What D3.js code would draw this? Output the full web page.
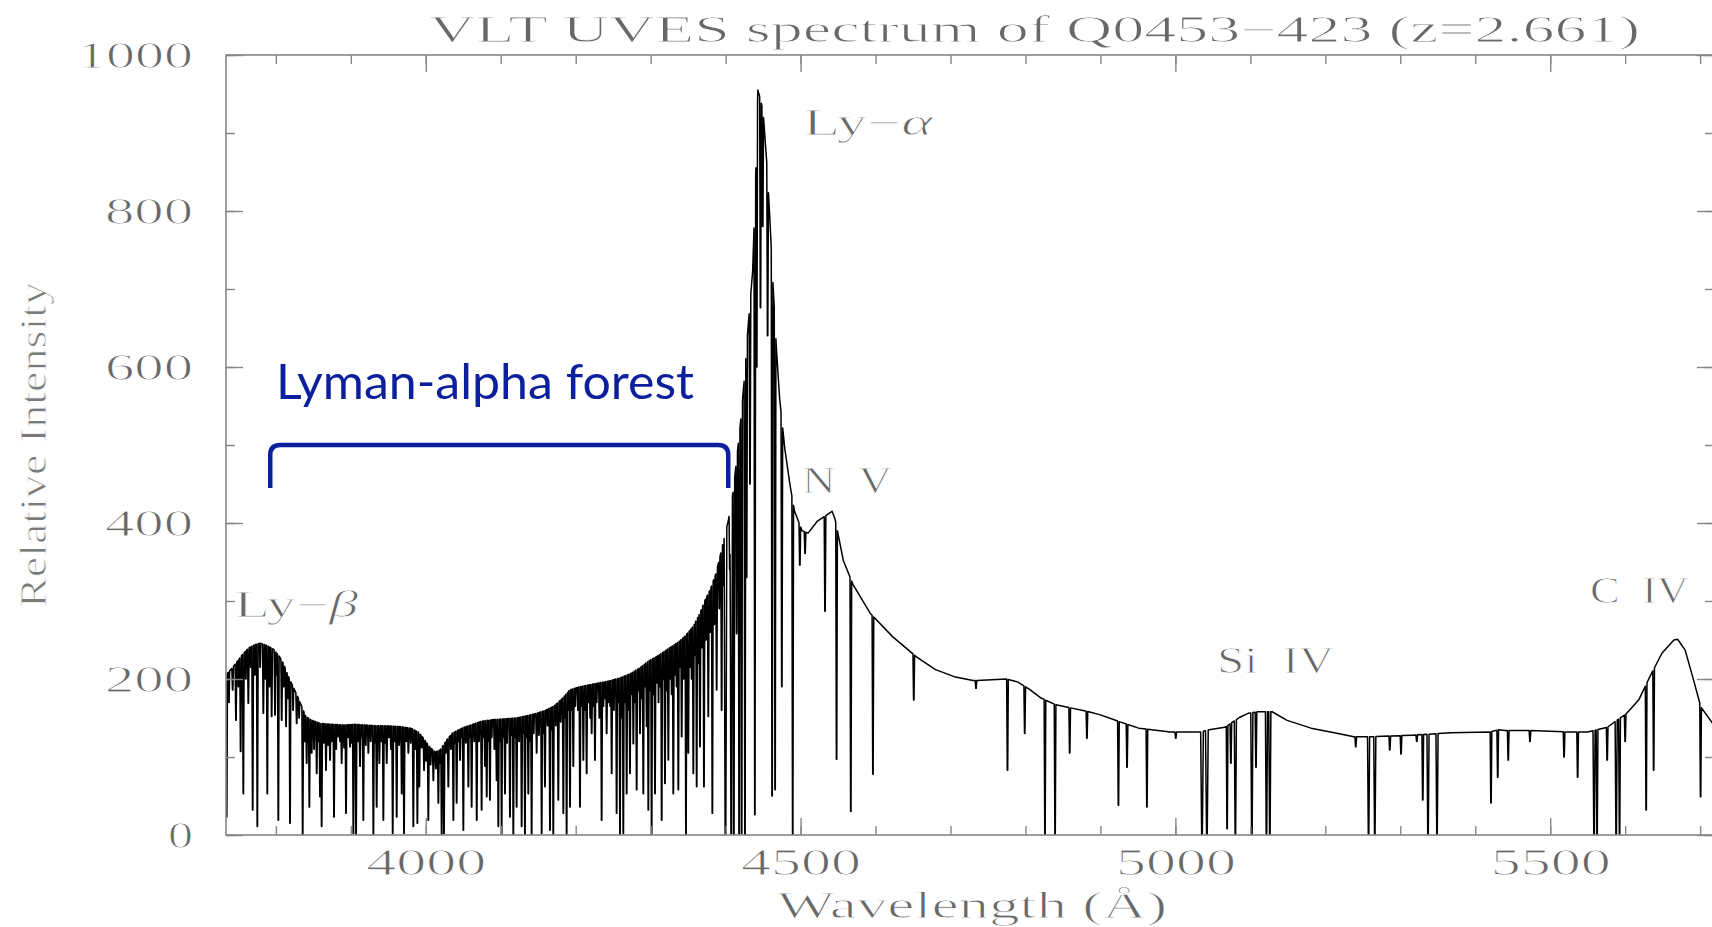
<!DOCTYPE html>
<html>
<head>
<meta charset="utf-8">
<script src="https://cdn.jsdelivr.net/npm/d3@7/dist/d3.min.js"></script>
<style>
  html, body { margin: 0; padding: 0; background: #ffffff; }
  svg { display: block; }
</style>
</head>
<body>
<svg id="chart" width="1712" height="927"></svg>
<script>
// ---------------------------------------------------------------
// VLT UVES spectrum of Q0453-423 (z = 2.661)
// ---------------------------------------------------------------

// Unabsorbed flux profile (continuum + emission lines): [wavelength Å, relative intensity]
const envelope = [
  [3733, 205], [3740, 212], [3748, 222], [3756, 232], [3764, 240], [3772, 244], [3779, 246],
  [3788, 243], [3797, 238], [3804, 230], [3810, 220], [3816, 205], [3822, 192], [3828, 180],
  [3834, 166], [3840, 152], [3848, 147], [3860, 143], [3875, 142], [3890, 141], [3905, 142],
  [3920, 141], [3935, 140], [3950, 140], [3965, 139], [3980, 137], [3990, 132], [3997, 124],
  [4005, 113], [4013, 106], [4020, 110], [4028, 122], [4036, 131], [4048, 137], [4060, 141],
  [4075, 146], [4090, 148], [4105, 149], [4120, 150], [4135, 153], [4148, 156], [4160, 160],
  [4172, 166], [4182, 175], [4192, 186], [4205, 190], [4220, 193], [4242, 197], [4258, 201],
  [4273, 207], [4285, 214], [4297, 223], [4310, 230], [4322, 238], [4335, 246], [4345, 254],
  [4357, 268], [4366, 285], [4373, 302], [4380, 316], [4387, 335], [4392, 355], [4398, 380],
  [4404, 405], [4410, 440], [4415, 485], [4420, 530], [4425, 585], [4430, 652], [4436, 722],
  [4440, 840], [4443, 955], [4446, 945], [4450, 928], [4455, 860], [4459, 790], [4463, 710],
  [4468, 620], [4472, 560], [4479, 495], [4486, 448], [4492, 415], [4502, 390], [4510, 387],
  [4522, 402], [4536, 411], [4542, 415], [4546, 405], [4557, 352], [4570, 321], [4593, 284],
  [4623, 254], [4655, 228], [4680, 212], [4705, 203], [4730, 198], [4755, 199], [4775, 200],
  [4790, 196], [4805, 187], [4820, 176], [4840, 167], [4860, 163], [4880, 159], [4900, 154],
  [4926, 145], [4951, 137], [4993, 132], [5034, 132], [5045, 135], [5066, 138], [5086, 151],
  [5097, 156], [5110, 158], [5129, 158], [5149, 147], [5181, 137], [5212, 131], [5238, 126],
  [5264, 126], [5316, 128], [5368, 131], [5420, 132], [5431, 135], [5440, 134], [5472, 134],
  [5524, 132], [5550, 132], [5576, 138], [5602, 156], [5618, 173], [5633, 203], [5649, 233],
  [5665, 250], [5670, 251], [5680, 237], [5690, 203], [5701, 164], [5719, 140]
];

// Strong absorption lines: [central wavelength Å, flux at line core, optional half-width Å]
const absorbers = [
  [3734.4, 23], [3742.4, 186], [3746.8, 147], [3753, 107], [3756.6, 53], [3763.3, 169],
  [3769.1, 32], [3775.3, 11], [3783.3, 156], [3788.6, 53], [3794.4, 152], [3798.9, 154],
  [3803.3, 19], [3807.8, 147], [3813.6, 139], [3818.9, 15], [3827.8, 143], [3835.8, 0],
  [3841.1, 92], [3844.7, 36], [3847.8, 105], [3854.5, 79], [3858.9, 49], [3861.1, 11],
  [3866.9, 83], [3872.3, 96], [3877.6, 23], [3883.4, 126], [3887.8, 92], [3893.6, 28],
  [3898.9, 113], [3903.4, 2], [3907, 0], [3912.3, 88], [3916.7, 19], [3923.4, 105],
  [3930.1, 0], [3934.5, 36], [3938.1, 92], [3943.4, 19], [3947.9, 92], [3955.9, 2],
  [3961.2, 23], [3967.9, 53], [3971, 2], [3976.8, 105], [3983.4, 11], [3988.8, 15],
  [3991.4, 62], [3997.7, 83], [4003.4, 19], [4010.1, 70], [4016.8, 41], [4021.2, 0],
  [4024.3, 2], [4030.1, 62], [4036.8, 19], [4041.2, 41], [4045.7, 96], [4050.1, 6],
  [4056.8, 62], [4061.2, 36], [4068, 19], [4074.5, 32], [4079, 88], [4081.3, 49],
  [4085.6, 45], [4094.5, 70], [4096.8, 11], [4101.2, 0], [4105.7, 53], [4112.3, 23],
  [4116.8, 0], [4121.2, 36], [4127.9, 11], [4132.3, 0], [4136.8, 53], [4141.2, 0],
  [4147.9, 105], [4154.6, 2], [4159, 62], [4165.7, 6], [4170.1, 0], [4176.8, 45],
  [4183.5, 28], [4187.9, 0], [4192.4, 36], [4196.8, 88], [4205.7, 36], [4210.2, 96],
  [4214.6, 79], [4221.3, 130], [4225.7, 96], [4234.6, 19], [4241.3, 130], [4248, 79],
  [4254.6, 28], [4259.1, 0], [4263.5, 2], [4268, 53], [4272.4, 79], [4276.9, 117],
  [4281.3, 58], [4285.8, 130], [4290.2, 53], [4294.7, 139], [4296.9, 32], [4301.3, 0],
  [4305.8, 53], [4314.7, 19], [4319.1, 66], [4323.6, 96], [4330.2, 53], [4336.9, 58],
  [4341.4, 126], [4347.1, 0], [4350.2, 105], [4356.9, 79], [4361.4, 62], [4365.8, 113],
  [4371.1, 62], [4376.9, 152], [4382.3, 28], [4388, 186], [4394.7, 160], [4399.8, 0, 1.8],
  [4407.5, 2, 1.6], [4411, 0], [4414.7, 258], [4418, 0], [4421.4, 2], [4425.8, 0],
  [4428, 330], [4432.5, 450], [4439, 26], [4441.5, 600], [4446.5, 676], [4449.5, 780],
  [4456, 640], [4462, 50], [4466, 58], [4475, 190], [4489.5, 0],
  [4499, 346], [4506, 361], [4532.6, 287], [4548, 97], [4567, 30], [4596.5, 78],
  [4651, 173], [4734, 188], [4776, 83], [4799, 130], [4826, 0], [4839.5, 0], [4859, 105],
  [4882, 124], [4924, 38], [4935.5, 87], [4962, 36], [5000.5, 124], [5035.5, 0, 1.8],
  [5042, 0, 1.8], [5069, 8], [5074, 92], [5080, 0, 1.4], [5102, 0, 1.4], [5107.5, 87],
  [5121.5, 0, 1.4], [5126, 0, 1.4], [5240.6, 113], [5257.7, 0, 1.4], [5266, 0, 1.4],
  [5286, 109], [5301, 104], [5322, 120], [5330, 45], [5337, 0, 1.4], [5349, 0, 1.4],
  [5421, 41], [5430, 74], [5444, 96], [5473, 120], [5518.5, 100], [5536.6, 74],
  [5558.5, 0, 1.4], [5562.5, 0, 1.2], [5576, 96], [5588, 0, 1.4], [5592.5, 0, 1.2],
  [5600, 120], [5628, 32], [5638, 83], [5700.6, 49]
];

// Weaker forest lines that roughen the top of the Lyman forest: [wavelength Å, core flux]
const weakForest = [
  [3737.5, 170], [3750, 190], [3760, 200], [3766.5, 215], [3772, 205], [3779, 215],
  [3786, 200], [3791.5, 190], [3801, 205], [3810.5, 190], [3816, 175], [3823, 160],
  [3831, 150], [3838.5, 120], [3851, 110], [3856.7, 120], [3864, 118], [3869.6, 115],
  [3875, 120], [3880.5, 110], [3885.6, 120], [3891, 112], [3896.3, 125], [3901, 118],
  [3910, 120], [3914.5, 125], [3920, 115], [3926.5, 120], [3932.3, 118], [3941, 120],
  [3945.6, 118], [3950.8, 125], [3953.5, 110], [3958.5, 120], [3964.5, 115], [3974, 120],
  [3980, 118], [3986, 110], [3994.5, 112], [4000.5, 95], [4006.5, 90], [4013.5, 85],
  [4019, 92], [4027, 105], [4033.5, 110], [4039, 118], [4043.5, 120], [4048, 125],
  [4053.5, 118], [4059, 125], [4064.7, 120], [4071, 120], [4077, 125], [4083.5, 120],
  [4088, 125], [4091.5, 110], [4099, 120], [4103.5, 125], [4108.5, 118], [4114.5, 128],
  [4119, 125], [4124.5, 120], [4130, 130], [4134.5, 125], [4139, 120], [4144, 130],
  [4151, 128], [4157, 130], [4162.5, 140], [4168, 135], [4173.5, 140], [4180, 145],
  [4185.7, 150], [4190, 160], [4194.5, 160], [4199.5, 165], [4203, 160], [4208, 165],
  [4212.5, 160], [4217, 170], [4219.3, 150], [4223.5, 165], [4228, 170], [4231.5, 150],
  [4237, 165], [4239, 175], [4243.5, 170], [4246, 165], [4251, 160], [4257, 170],
  [4261.3, 150], [4266, 170], [4270.2, 160], [4274.6, 180], [4279, 170], [4283.5, 185],
  [4288, 175], [4292.5, 190], [4299, 185], [4303.5, 180], [4308, 195], [4310.5, 170],
  [4312.5, 190], [4317, 200], [4321.3, 185], [4326, 200], [4328, 180], [4332.5, 205],
  [4334.6, 190], [4339, 215], [4344, 200], [4352.5, 215], [4354.6, 200], [4359, 230],
  [4363.6, 220], [4368.5, 240], [4374, 250], [4379.5, 260], [4385, 270], [4391.5, 290],
  [4397, 320], [4405.5, 340]
];

// Axis ticks and labels
const xMajorTicks = [4000, 4500, 5000, 5500];
const xTickLabels = ["4000", "4500", "5000", "5500"];
const xMinorTicks = d3.range(3800, 5701, 100);
const yMajorTicks = [0, 200, 400, 600, 800, 1000];
const yTickLabels = ["0", "200", "400", "600", "800", "1000"];
const yMinorTicks = d3.range(0, 1001, 100);

// Text
const titleText = "VLT UVES spectrum of Q0453\u2212423 (z=2.661)";
const xTitle = "Wavelength (\u00C5)";
const yTitle = "Relative Intensity";
const forestText = "Lyman-alpha forest";

// ---------------------------------------------------------------
const svg = d3.select("#chart");
const axisColor = "#868686";
const textColor = "#686868";
const serif = "'Liberation Serif', 'Times New Roman', serif";
const blue = "#0c1f9c";

const x = d3.scaleLinear().domain([3733.5, 5718.5]).range([226, 1714]);
const y = d3.scaleLinear().domain([0, 1000]).range([835, 55]);
const [x0, x1] = x.range();
const [yb, yt] = y.range();

svg.append("rect").attr("width", 1712).attr("height", 927).attr("fill", "#fff");

svg.append("clipPath").attr("id", "plot-area")
  .append("rect")
  .attr("x", x0).attr("y", yt)
  .attr("width", x1 - x0).attr("height", yb - yt);

// --- spectrum -------------------------------------------------
const cont = d3.scaleLinear()
  .domain(envelope.map(d => d[0]))
  .range(envelope.map(d => d[1]))
  .clamp(true);

const lines = absorbers.map(([lam, floor, hw = 1.1]) => ({ lam, floor, hw }))
  .concat(weakForest.map(([lam, floor]) => ({ lam, floor, hw: 0.9 })));

// flux at a wavelength: the profile cut by every line that covers it
function fluxAt(l) {
  const c = cont(l);
  let f = c;
  for (const a of lines) {
    const d = Math.abs(l - a.lam);
    if (d >= a.hw) continue;
    const core = a.hw * 0.25;
    const t = d <= core ? 0 : (d - core) / (a.hw - core);
    const v = a.floor + (c - a.floor) * t;
    if (v < f) f = v;
  }
  return f;
}

const grid = new Set(envelope.map(d => d[0]));
lines.forEach(a => {
  [-1, -0.25, 0.25, 1].forEach(o => grid.add(+(a.lam + o * a.hw).toFixed(3)));
});
const spectrum = Array.from(grid).sort((a, b) => a - b).map(l => [l, fluxAt(l)]);

svg.append("path")
  .datum(spectrum)
  .attr("clip-path", "url(#plot-area)")
  .attr("fill", "none")
  .attr("stroke", "#000")
  .attr("stroke-width", 1.5)
  .attr("stroke-linejoin", "round")
  .attr("d", d3.line().x(d => x(d[0])).y(d => y(d[1])));

// --- frame and ticks ----------------------------------------------
svg.append("rect")
  .attr("x", x0).attr("y", yt)
  .attr("width", x1 - x0).attr("height", yb - yt)
  .attr("fill", "none")
  .attr("stroke", axisColor)
  .attr("stroke-width", 1.6);

function ticks(axis, transform, values, size) {
  const g = svg.append("g")
    .attr("transform", transform)
    .call(axis.tickValues(values).tickSize(size).tickSizeOuter(0).tickFormat(""));
  g.select(".domain").remove();
  g.selectAll(".tick line").attr("stroke", axisColor).attr("stroke-width", 1.4);
  return g;
}

ticks(d3.axisBottom(x), `translate(0,${yb})`, xMinorTicks, -9);
ticks(d3.axisBottom(x), `translate(0,${yb})`, xMajorTicks, -17);
ticks(d3.axisTop(x), `translate(0,${yt})`, xMinorTicks, -9);
ticks(d3.axisTop(x), `translate(0,${yt})`, xMajorTicks, -17);
ticks(d3.axisLeft(y), `translate(${x0},0)`, yMinorTicks, -9);
ticks(d3.axisLeft(y), `translate(${x0},0)`, yMajorTicks, -17);
ticks(d3.axisRight(y), `translate(${x1},0)`, yMinorTicks, -9);
ticks(d3.axisRight(y), `translate(${x1},0)`, yMajorTicks, -17);

// thin serif lettering: a white outline trims the glyph stems
function thinText(sel) {
  return sel.attr("stroke", "#fff").attr("stroke-width", 0.9).attr("paint-order", "normal");
}

// --- tick labels ----------------------------------------------------
const labelSize = 37;
const xLab = svg.append("g")
  .attr("transform", `translate(0,${yb})`)
  .call(d3.axisBottom(x).tickValues(xMajorTicks).tickSize(0).tickPadding(40)
    .tickFormat((d, i) => xTickLabels[i]));
xLab.select(".domain").remove();
thinText(xLab.selectAll("text")
  .attr("dy", 0)
  .attr("font-family", serif).attr("font-size", labelSize).attr("fill", textColor)
  .attr("textLength", 120).attr("lengthAdjust", "spacingAndGlyphs"));

const yWidths = { 1: 25, 3: 88, 4: 116 };
const yLab = svg.append("g")
  .attr("transform", `translate(${x0},0)`)
  .call(d3.axisLeft(y).tickValues(yMajorTicks).tickSize(0).tickPadding(33)
    .tickFormat((d, i) => yTickLabels[i]));
yLab.select(".domain").remove();
thinText(yLab.selectAll("text")
  .attr("dy", 12.5)
  .attr("font-family", serif).attr("font-size", labelSize).attr("fill", textColor)
  .attr("textLength", d => yWidths[yTickLabels[yMajorTicks.indexOf(d)].length])
  .attr("lengthAdjust", "spacingAndGlyphs"));

// --- titles -----------------------------------------------------------
function label(px, py, str, width, opts = {}) {
  const t = svg.append("text")
    .attr("x", px).attr("y", py)
    .attr("font-family", opts.family || serif)
    .attr("font-size", opts.size || labelSize)
    .attr("fill", opts.fill || textColor)
    .attr("text-anchor", opts.anchor || "start")
    .attr("textLength", width)
    .attr("lengthAdjust", "spacingAndGlyphs");
  if (opts.transform) t.attr("transform", opts.transform);
  thinText(t);
  return t.text(str);
}

label(429, 42, titleText, 1211);
label(972, 918, xTitle, 390, { anchor: "middle" });
label(0, 0, yTitle, 326, { anchor: "middle", transform: "translate(46,445) rotate(-90)", fill: "#7a7a7a" });

// --- emission line identifications -----------------------------------------
const ions = [
  { text: "Ly\u2212", greek: "\u03B1", lam: 4503.2, flux: 897, width: 130 },
  { text: "N  V", lam: 4502, flux: 438.5, width: 90 },
  { text: "Ly\u2212", greek: "\u03B2", lam: 3744.3, flux: 279.5, width: 124 },
  { text: "Si  IV", lam: 5055.6, flux: 207.6, width: 117 },
  { text: "C  IV", lam: 5553, flux: 297.3, width: 99 }
];
ions.forEach(d => {
  const t = label(x(d.lam), y(d.flux), d.text, d.width);
  t.attr("xml:space", "preserve").style("white-space", "pre");
  if (d.greek) t.append("tspan").attr("font-style", "italic").text(d.greek);
});

// --- Lyman-alpha forest bracket ---------------------------------------------
const bx0 = x(3792.5), bx1 = x(4403.5), by = y(500), byEnd = y(445), r = 10;
svg.append("path")
  .attr("fill", "none")
  .attr("stroke", blue)
  .attr("stroke-width", 4.5)
  .attr("d", `M${bx0},${byEnd} L${bx0},${by + r} Q${bx0},${by} ${bx0 + r},${by} ` +
             `L${bx1 - r},${by} Q${bx1},${by} ${bx1},${by + r} L${bx1},${byEnd}`);

svg.append("text")
  .attr("x", 276).attr("y", 399)
  .attr("font-family", "Lato, 'Open Sans', sans-serif")
  .attr("font-size", 48)
  .attr("fill", blue)
  .attr("textLength", 418)
  .attr("lengthAdjust", "spacingAndGlyphs")
  .text(forestText);
</script>
</body>
</html>
